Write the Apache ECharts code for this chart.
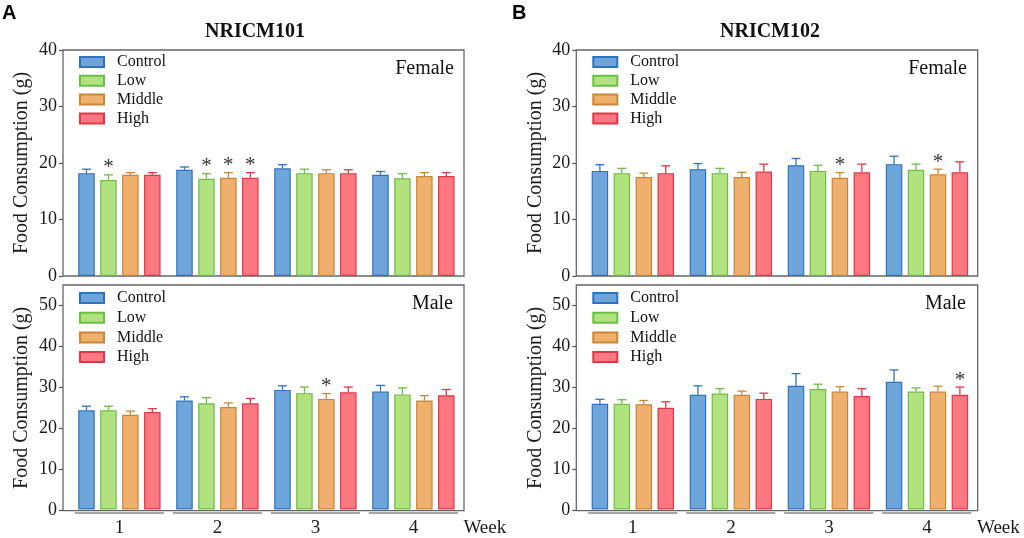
<!DOCTYPE html>
<html>
<head>
<meta charset="utf-8">
<script src="https://cdn.jsdelivr.net/npm/echarts@6/dist/echarts.min.js"></script>
<style>
  html, body { margin: 0; padding: 0; background: #fff; }
  #chart { width: 1024px; height: 538px; }
</style>
</head>
<body>
<div id="chart"></div>
<script>
// weeks on the x axis and dose groups
var weeks = ['1', '2', '3', '4'];
var groups = ['Control', 'Low', 'Middle', 'High'];

// NRICM101 female (mean / upper error / significance), one row per group
var f101Mean = [[18.2, 18.8, 19.05, 17.9], [17.0, 17.2, 18.2, 17.3], [17.9, 17.4, 18.2, 17.7], [17.9, 17.4, 18.2, 17.7]];
var f101Err  = [[0.7, 0.5, 0.65, 0.6], [0.9, 0.9, 0.7, 0.8], [0.4, 0.9, 0.6, 0.6], [0.4, 0.9, 0.6, 0.6]];
var f101Sig  = [[0, 0, 0, 0], [1, 1, 0, 0], [0, 1, 0, 0], [0, 1, 0, 0]];

// NRICM101 male
var m101Mean = [[24.3, 26.7, 29.3, 28.9], [24.3, 26.0, 28.5, 28.2], [23.2, 25.1, 27.1, 26.7], [23.9, 26.0, 28.7, 28.0]];
var m101Err  = [[1.0, 0.9, 1.0, 1.5], [1.0, 1.4, 1.5, 1.6], [0.9, 1.0, 1.3, 1.2], [0.8, 1.2, 1.3, 1.4]];
var m101Sig  = [[0, 0, 0, 0], [0, 0, 0, 0], [0, 0, 1, 0], [0, 0, 0, 0]];

// NRICM102 female
var f102Mean = [[18.6, 18.9, 19.6, 19.8], [18.2, 18.2, 18.6, 18.8], [17.5, 17.5, 17.4, 18.0], [18.2, 18.5, 18.35, 18.35]];
var f102Err  = [[1.1, 1.0, 1.2, 1.4], [0.85, 0.85, 1.0, 1.0], [0.7, 0.85, 0.9, 0.9], [1.3, 1.3, 1.45, 1.85]];
var f102Sig  = [[0, 0, 0, 0], [0, 0, 0, 0], [0, 0, 1, 1], [0, 0, 0, 0]];

// NRICM102 male
var m102Mean = [[25.9, 28.1, 30.3, 31.3], [25.9, 28.4, 29.5, 28.9], [25.8, 28.1, 28.9, 28.9], [24.9, 27.1, 27.8, 28.1]];
var m102Err  = [[1.1, 2.2, 3.0, 2.9], [1.0, 1.2, 1.2, 0.9], [0.9, 0.9, 1.2, 1.3], [1.5, 1.4, 1.8, 1.9]];
var m102Sig  = [[0, 0, 0, 0], [0, 0, 0, 0], [0, 0, 0, 0], [0, 0, 0, 1]];

var fills   = ['#6ea6db', '#b2e27f', '#eeb06c', '#fd7880'];
var borders = ['#2f72c0', '#6cbe45', '#c98634', '#e03848'];

var SERIF = "'Liberation Serif', 'Times New Roman', serif";
var BAR_W = 16.5, BAR_GAP = 0.33;

function barOffset(i) {
    var step = BAR_W * (1 + BAR_GAP);
    return (i - 1.5) * step;
}

function errorRenderer(i) {
    return function (params, api) {
        var v = api.value(1), e = api.value(2), s = api.value(3);
        var p0 = api.coord([api.value(0), v]);
        var p1 = api.coord([api.value(0), v + e]);
        var x = p0[0] + barOffset(i);
        var st = { stroke: borders[i], lineWidth: 1.3 };
        var kids = [
            { type: 'line', shape: { x1: x, y1: p0[1], x2: x, y2: p1[1] }, style: st },
            { type: 'line', shape: { x1: x - 4.5, y1: p1[1], x2: x + 4.5, y2: p1[1] }, style: st }
        ];
        if (s) {
            kids.push({
                type: 'text',
                style: { text: '*', x: x, y: p1[1] - 7, align: 'center', verticalAlign: 'middle',
                         fontSize: 21, fontFamily: SERIF, fill: '#333' }
            });
        }
        return { type: 'group', children: kids };
    };
}

// panels: frame grid (box + y axis) and data grid (bars)
var panels = [
    { mean: f101Mean, err: f101Err, sig: f101Sig, fx: 63, fw: 401, dx: 70.4, dw: 392, top: 50, h: 226, max: 40, bottom: false },
    { mean: m101Mean, err: m101Err, sig: m101Sig, fx: 63, fw: 401, dx: 70.4, dw: 392, top: 285, h: 225.7, max: 55, bottom: true },
    { mean: f102Mean, err: f102Err, sig: f102Sig, fx: 576.3, fw: 401.4, dx: 583.8, dw: 392.2, top: 50, h: 226, max: 40, bottom: false },
    { mean: m102Mean, err: m102Err, sig: m102Sig, fx: 576.3, fw: 401.4, dx: 583.8, dw: 392.2, top: 285, h: 225.7, max: 55, bottom: true }
];

var grid = [], xAxis = [], yAxis = [], series = [], legend = [];
var tickVals = [0, 10, 20, 30, 40, 50];

panels.forEach(function (p, k) {
    grid.push({ left: p.fx, top: p.top, width: p.fw, height: p.h, show: true,
                borderColor: '#666', borderWidth: 1.3, backgroundColor: 'transparent' });
    xAxis.push({ type: 'category', gridIndex: k, data: weeks, show: false });
    yAxis.push({
        type: 'value', gridIndex: k, min: 0, max: p.max, interval: 10,
        name: 'Food Consumption (g)', nameLocation: 'middle', nameGap: 31,
        nameTextStyle: { fontFamily: SERIF, fontSize: 20, color: '#1a1a1a' },
        axisLine: { show: false },
        axisTick: { show: true, length: 4, customValues: p.max === 55 ? tickVals : undefined,
                    lineStyle: { color: '#555', width: 1.2 } },
        axisLabel: { fontFamily: SERIF, fontSize: 18, color: '#1a1a1a', margin: 6,
                     customValues: p.max === 55 ? tickVals : undefined },
        splitLine: { show: false }
    });
});

panels.forEach(function (p, k) {
    var g = 4 + k;
    grid.push({ left: p.dx, top: p.top, width: p.dw, height: p.h });
    xAxis.push({
        type: 'category', gridIndex: g, data: weeks, show: p.bottom, offset: 3.5,
        axisLine: { show: true, onZero: false,
                    lineStyle: { color: '#888', width: 1.6, type: [88, 10], dashOffset: 93 } },
        axisTick: { show: false },
        axisLabel: { fontFamily: SERIF, fontSize: 19, color: '#1a1a1a', margin: 6 },
        name: 'Week', nameLocation: 'end', nameGap: 1,
        nameTextStyle: { fontFamily: SERIF, fontSize: 19, color: '#1a1a1a', align: 'left',
                         verticalAlign: 'top', padding: [6, 0, 0, 0] }
    });
    yAxis.push({ type: 'value', gridIndex: g, min: 0, max: p.max, show: false, splitLine: { show: false } });

    groups.forEach(function (name, i) {
        series.push({
            name: name, type: 'bar', xAxisIndex: g, yAxisIndex: g,
            barWidth: BAR_W, barGap: (BAR_GAP * 100) + '%',
            itemStyle: { color: fills[i], borderColor: borders[i], borderWidth: 1.2 },
            data: p.mean[i], silent: true
        });
    });
    groups.forEach(function (name, i) {
        series.push({
            name: name + ' error', type: 'custom', xAxisIndex: g, yAxisIndex: g,
            renderItem: errorRenderer(i), encode: { x: 0, y: 1 }, z: 3, silent: true,
            data: weeks.map(function (w, j) { return [j, p.mean[i][j], p.err[i][j], p.sig[i][j]]; })
        });
    });

    legend.push({
        data: groups, orient: 'vertical', left: p.fx + 16, top: p.top + (p.bottom ? 5 : 4),
        icon: 'rect', itemWidth: 24, itemHeight: 10, itemGap: p.bottom ? 3.7 : 2.8,
        padding: 0, selectedMode: false,
        textStyle: { fontFamily: SERIF, fontSize: 16, color: '#111', padding: [0, 0, 0, 8], lineHeight: 16 }
    });
});

var title = [
    { text: 'NRICM101', left: 255, top: 22, textAlign: 'center', padding: 0,
      textStyle: { fontFamily: SERIF, fontSize: 20, fontWeight: 'bold', color: '#111' } },
    { text: 'NRICM102', left: 770, top: 22, textAlign: 'center', padding: 0,
      textStyle: { fontFamily: SERIF, fontSize: 20, fontWeight: 'bold', color: '#111' } },
    { text: 'A', left: 2, top: 3, padding: 0,
      textStyle: { fontFamily: "'Liberation Sans', Arial, sans-serif", fontSize: 20, fontWeight: 'bold', color: '#000' } },
    { text: 'B', left: 512, top: 3, padding: 0,
      textStyle: { fontFamily: "'Liberation Sans', Arial, sans-serif", fontSize: 20, fontWeight: 'bold', color: '#000' } },
    { text: 'Female', right: 570, top: 59, padding: 0,
      textStyle: { fontFamily: SERIF, fontSize: 20, fontWeight: 'normal', color: '#111' } },
    { text: 'Female', right: 57, top: 59, padding: 0,
      textStyle: { fontFamily: SERIF, fontSize: 20, fontWeight: 'normal', color: '#111' } },
    { text: 'Male', right: 571, top: 294, padding: 0,
      textStyle: { fontFamily: SERIF, fontSize: 20, fontWeight: 'normal', color: '#111' } },
    { text: 'Male', right: 58, top: 294, padding: 0,
      textStyle: { fontFamily: SERIF, fontSize: 20, fontWeight: 'normal', color: '#111' } }
];

var myChart = echarts.init(document.getElementById('chart'), null, { renderer: 'canvas' });
myChart.setOption({
    animation: false,
    backgroundColor: '#fff',
    title: title,
    legend: legend,
    grid: grid,
    xAxis: xAxis,
    yAxis: yAxis,
    series: series
});
window.addEventListener('resize', myChart.resize);
</script>
</body>
</html>
